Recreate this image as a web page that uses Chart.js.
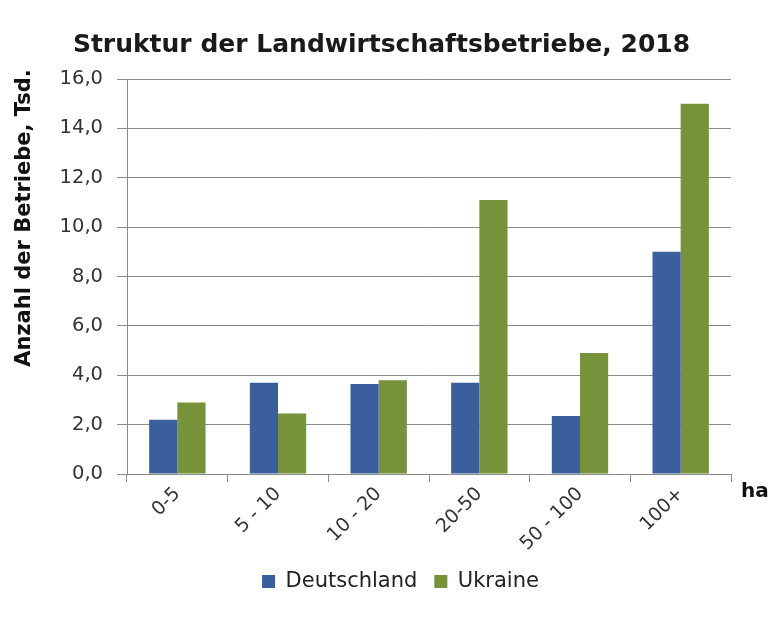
<!DOCTYPE html>
<html>
<head>
<meta charset="utf-8">
<script src="https://cdn.jsdelivr.net/npm/chart.js@4"></script>
<style>
html,body{margin:0;padding:0;background:#fff;}
#wrap{width:776px;height:620px;position:relative;}
</style>
</head>
<body>
<div id="wrap"><canvas id="c" width="776" height="620"></canvas></div>
<script>
const categories = ['0-5', '5 - 10', '10 - 20', '20-50', '50 - 100', '100+'];
const deutschland = [2.2, 3.7, 3.65, 3.7, 2.35, 9.0];
const ukraine = [2.9, 2.45, 3.8, 11.1, 4.9, 15.0];
const yTicks = [0, 2, 4, 6, 8, 10, 12, 14, 16];
const chartTitle = 'Struktur der Landwirtschaftsbetriebe, 2018';
const yTitle = 'Anzahl der Betriebe, Tsd.';
const xUnit = 'ha';

const FONT = "'DejaVu Sans', Verdana, sans-serif";

const extraText = {
  id: 'extraText',
  afterLayout(chart) {
    if (chart.titleBlock) { chart.titleBlock.left += 16; chart.titleBlock.right += 16; }
    if (chart.legend) { chart.legend.left += 35; chart.legend.right += 35; }
  },
  afterDraw(chart) {
    const ctx = chart.ctx;
    const a = chart.chartArea;
    ctx.save();
    ctx.fillStyle = '#111';
    ctx.font = "bold 20px " + FONT;
    ctx.textAlign = 'left';
    ctx.textBaseline = 'middle';
    ctx.fillText(xUnit, a.right + 10, a.bottom + 18);
    ctx.translate(25, 218);
    ctx.rotate(-Math.PI / 2);
    ctx.textAlign = 'center';
    ctx.font = "bold 21px " + FONT;
    ctx.fillText(yTitle, 0, 0);
    ctx.restore();
  }
};

new Chart(document.getElementById('c'), {
  type: 'bar',
  data: {
    labels: categories,
    datasets: [
      { label: 'Deutschland', data: deutschland, backgroundColor: '#3A5F9C', borderWidth: 0 },
      { label: 'Ukraine', data: ukraine, backgroundColor: '#76933C', borderWidth: 0 }
    ]
  },
  options: {
    responsive: false,
    animation: false,
    devicePixelRatio: 1,
    layout: { padding: { left: 0, right: 45, top: 0, bottom: 18 } },
    datasets: { bar: { categoryPercentage: 0.56, barPercentage: 1.0 } },
    plugins: {
      title: {
        display: true,
        text: chartTitle,
        color: '#1a1a1a',
        font: { family: FONT, size: 25, weight: 'bold' },
        padding: { top: 30, bottom: 19 }
      },
      legend: {
        position: 'bottom',
        labels: {
          color: '#222',
          font: { family: FONT, size: 21 },
          boxWidth: 13,
          boxHeight: 13,
          padding: 17
        }
      },
      tooltip: { enabled: false }
    },
    scales: {
      x: {
        afterFit(scale) { scale.height = 80; },
        grid: {
          offset: true,
          drawOnChartArea: true,
          color: (c) => (c.index === categories.length ? '#c4c4c4' : 'rgba(0,0,0,0)'),
          tickColor: '#8a8a8a',
          tickLength: 8
        },
        border: { color: '#8a8a8a' },
        ticks: {
          color: '#333',
          font: { family: FONT, size: 19 },
          maxRotation: 45,
          minRotation: 45,
          padding: 1
        }
      },
      y: {
        min: 0,
        max: 16,
        afterFit(scale) { scale.width = 127; },
        afterBuildTicks(scale) { scale.ticks = yTicks.map(v => ({ value: v })); },
        grid: { color: '#8a8a8a', tickColor: '#8a8a8a', tickLength: 10 },
        border: { color: '#8a8a8a' },
        ticks: {
          color: '#333',
          font: { family: FONT, size: 19.5 },
          padding: 14,
          callback: (v) => Number(v).toFixed(1).replace('.', ',')
        }
      }
    }
  },
  plugins: [extraText]
});
</script>
</body>
</html>
